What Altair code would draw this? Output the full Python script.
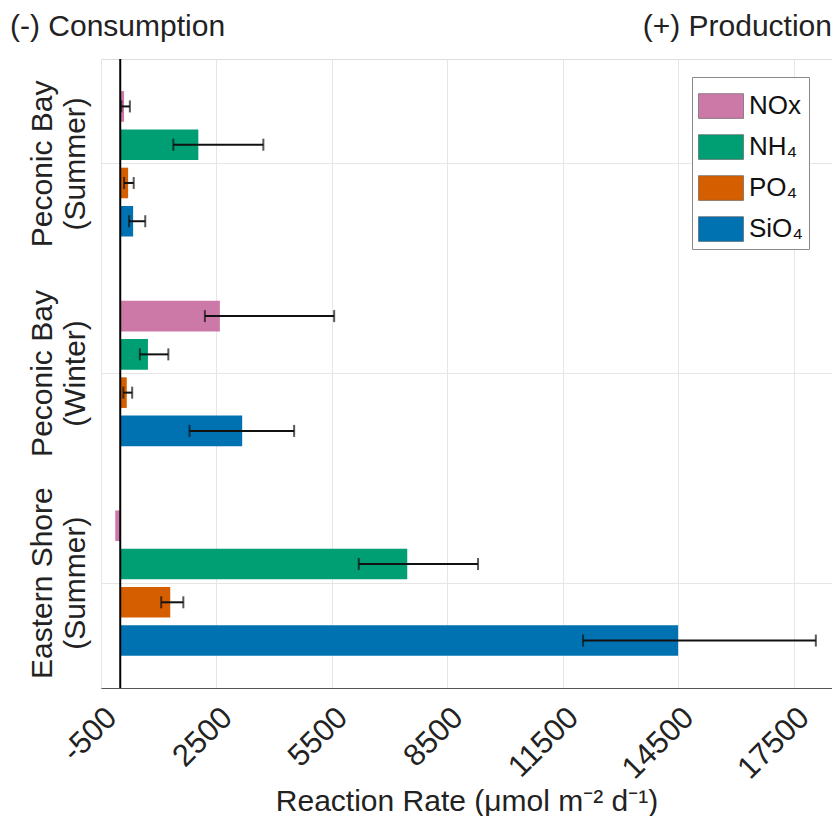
import altair as alt
import pandas as pd

# ---- data ----
SITES = ["Peconic Bay (Summer)", "Peconic Bay (Winter)", "Eastern Shore (Summer)"]
NUTRIENTS = ["NOx", "NH₄", "PO₄", "SiO₄"]
COLORS = ["#CC79A7", "#009E73", "#D55E00", "#0072B2"]

# bar values (µmol m-2 d-1), order = NUTRIENTS
PECONIC_SUMMER = [100, 2030, 205, 335]
PECONIC_WINTER = [2590, 720, 170, 3170]
EASTERN_SUMMER = [-130, 7460, 1300, 14500]

# error bar extents (low, high)
PECONIC_SUMMER_LO = [30, 1380, 100, 230]
PECONIC_SUMMER_HI = [250, 3720, 350, 650]
PECONIC_WINTER_LO = [2200, 510, 80, 1800]
PECONIC_WINTER_HI = [5560, 1250, 310, 4520]
EASTERN_SUMMER_LO = [None, 6200, 1065, 12030]
EASTERN_SUMMER_HI = [None, 9300, 1640, 18080]

X_TICKS = [-500, 2500, 5500, 8500, 11500, 14500, 17500]

rows = []
for site, vals, los, his in [
    (SITES[0], PECONIC_SUMMER, PECONIC_SUMMER_LO, PECONIC_SUMMER_HI),
    (SITES[1], PECONIC_WINTER, PECONIC_WINTER_LO, PECONIC_WINTER_HI),
    (SITES[2], EASTERN_SUMMER, EASTERN_SUMMER_LO, EASTERN_SUMMER_HI),
]:
    for n, v, lo, hi in zip(NUTRIENTS, vals, los, his):
        rows.append({"site": site, "nutrient": n, "value": v, "lo": lo, "hi": hi})
df = pd.DataFrame(rows)
err_df = df.dropna(subset=["lo", "hi"])

FONT = "Liberation Sans"
TXT = "#222222"

x_scale = alt.Scale(domain=[-500, 18500], nice=False, zero=False)
y_scale = alt.Scale(domain=SITES, paddingInner=0.27, paddingOuter=0.135)
yoff_scale = alt.Scale(domain=NUTRIENTS, paddingInner=0.2, paddingOuter=0.1)

y_axis = alt.Axis(
    title=None,
    labelExpr="[split(datum.label, ' (')[0], '(' + split(datum.label, ' (')[1]]",
    labelAngle=270,
    labelAlign="center",
    labelBaseline="bottom",
    labelFontSize=30,
    labelLineHeight=33,
    labelPadding=44,
    labelLimit=0,
    labelFont=FONT,
    labelColor=TXT,
    ticks=False,
    domain=False,
    grid=True,
    gridColor="#e6e6e6",
)

x_axis = alt.Axis(
    title="Reaction Rate (μmol m⁻² d⁻¹)",
    values=X_TICKS,
    labelExpr="toString(datum.value)",
    labelAngle=-45,
    labelAlign="right",
    labelBaseline="top",
    labelFontSize=31,
    labelFont=FONT,
    labelColor=TXT,
    labelPadding=14,
    labelLimit=0,
    labelOverlap=False,
    ticks=False,
    domainColor="#555555",
    grid=True,
    gridColor="#e6e6e6",
    titleFontSize=30,
    titleFont=FONT,
    titleFontWeight="normal",
    titleColor=TXT,
    titleY=122,
    titleBaseline="alphabetic",
)

base = alt.Chart(df)

bars = base.mark_bar().encode(
    y=alt.Y("site:N", scale=y_scale, axis=y_axis, sort=SITES),
    yOffset=alt.YOffset("nutrient:N", scale=yoff_scale, sort=NUTRIENTS),
    x=alt.X("value:Q", scale=x_scale, axis=x_axis),
    x2=alt.datum(0),
    color=alt.Color(
        "nutrient:N",
        scale=alt.Scale(domain=NUTRIENTS, range=COLORS),
        sort=NUTRIENTS,
        legend=alt.Legend(
            title=None,
            orient="none",
            legendX=591,
            legendY=18,
            symbolType="M-1,-0.55H1V0.55H-1Z",
            symbolSize=2025,
            symbolStrokeColor="#555555",
            symbolStrokeWidth=0.6,
            symbolOpacity=1,
            labelFontSize=26,
            labelFont=FONT,
            labelColor="#111111",
            labelOffset=5,
            padding=6,
            rowPadding=4,
            strokeColor="#8a8a8a",
            fillColor="white",
        ),
    ),
)

err_base = alt.Chart(err_df)
err_line = err_base.mark_rule(color="#111111", strokeWidth=2).encode(
    y=alt.Y("site:N", scale=y_scale, sort=SITES),
    yOffset=alt.YOffset("nutrient:N", scale=yoff_scale, sort=NUTRIENTS),
    x=alt.X("lo:Q", scale=x_scale),
    x2="hi:Q",
)
cap_lo = err_base.mark_tick(color="#111111", thickness=2, size=12).encode(
    y=alt.Y("site:N", scale=y_scale, sort=SITES),
    yOffset=alt.YOffset("nutrient:N", scale=yoff_scale, sort=NUTRIENTS),
    x=alt.X("lo:Q", scale=x_scale),
)
cap_hi = err_base.mark_tick(color="#111111", thickness=2, size=12).encode(
    y=alt.Y("site:N", scale=y_scale, sort=SITES),
    yOffset=alt.YOffset("nutrient:N", scale=yoff_scale, sort=NUTRIENTS),
    x=alt.X("hi:Q", scale=x_scale),
)

baseline = alt.Chart(pd.DataFrame({"b": [0]})).mark_rule(
    color="black", strokeWidth=2
).encode(x=alt.X("b:Q", scale=x_scale))

left_note = alt.Chart(pd.DataFrame({"t": ["(-) Consumption"]})).mark_text(
    align="left", baseline="middle", fontSize=30, font=FONT, color=TXT
).encode(text="t:N", x=alt.value(-91), y=alt.value(-32))

right_note = alt.Chart(pd.DataFrame({"t": ["(+) Production"]})).mark_text(
    align="right", baseline="middle", fontSize=30, font=FONT, color=TXT
).encode(text="t:N", x=alt.value(731), y=alt.value(-32))

chart = (
    alt.layer(bars, err_line, cap_lo, cap_hi, baseline, left_note, right_note)
    .properties(
        width=731,
        height=629,
        autosize=alt.AutoSizeParams(type="none"),
        padding={"left": 93, "top": 51, "right": 0, "bottom": 128},
    )
    .configure_view(stroke="#9a9a9a", strokeWidth=1)
    .configure(background="white")
)

chart.save("out.html", embed_options={"renderer": "svg", "actions": False})
